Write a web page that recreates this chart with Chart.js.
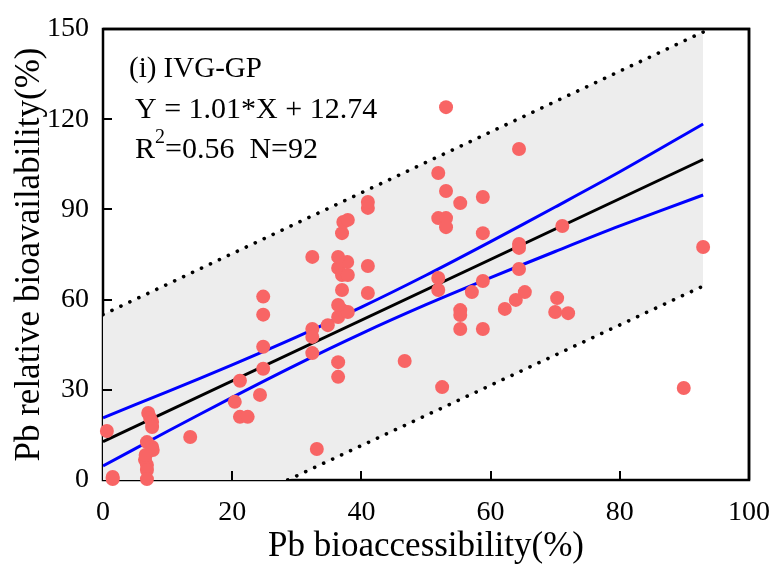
<!DOCTYPE html>
<html>
<head>
<meta charset="utf-8">
<script src="https://cdn.jsdelivr.net/npm/chart.js@4.4.1/dist/chart.umd.min.js"></script>
<style>
    html, body { margin: 0; padding: 0; background: #fff; }
    #wrap { width: 780px; height: 568px; position: relative; }
</style>
</head>
<body>
<div id="wrap"><canvas id="chart" width="780" height="568"></canvas></div>
<script>
// ==================== Data ====================
const xTicks = [0, 20, 40, 60, 80, 100];
const yTicks = [0, 30, 60, 90, 120, 150];

// observed samples (Pb bioaccessibility %, Pb relative bioavailability %)
const bioAccess = [
    0.6, 1.5, 1.5, 7.0, 7.3, 7.6, 7.6, 6.8, 7.6, 7.7, 6.5, 6.8, 6.8, 6.8, 6.6,
    13.5, 20.4, 21.2, 22.4, 24.3, 21.2, 24.8, 24.8, 24.8, 24.8, 33.1,
    32.4, 32.4, 32.4, 32.4, 34.8, 36.4, 36.4, 36.4, 37.0, 37.9, 36.4, 37.0, 36.4, 37.0,
    37.9, 37.8, 36.4, 37.0, 37.2, 37.9, 41.0, 41.0, 41.0, 41.0, 46.7,
    52.5, 53.1, 51.9, 53.1, 55.3, 58.8, 51.9, 53.1, 53.1, 58.8, 64.4, 71.1, 64.4, 64.4,
    64.4, 92.9, 51.9, 51.9, 58.8, 57.1, 65.3, 63.9, 62.2, 70.3, 70.0, 72.0, 55.3, 55.3,
    55.3, 58.8, 89.9
];
const bioAvail = [
    16.3, 1.0, 0.3, 22.3, 20.6, 19.3, 17.6, 12.6, 11.0, 10.0, 6.7, 5.0, 3.3, 0.3, 8.3,
    14.3, 26.0, 21.0, 21.0, 28.3, 33.0, 61.0, 55.0, 44.3, 37.0, 10.3,
    74.2, 50.2, 47.6, 42.2, 51.5, 39.2, 34.3, 54.2, 56.5, 55.9, 58.2, 63.2, 70.5, 68.2,
    68.2, 72.5, 74.2, 82.1, 85.8, 86.5, 90.5, 92.5, 71.2, 62.2, 39.6,
    30.9, 124.0, 102.1, 96.1, 92.1, 94.1, 87.1, 87.1, 84.1, 82.1, 110.1, 84.5, 78.5, 77.2,
    70.2, 77.5, 67.2, 63.2, 66.2, 62.5, 62.5, 59.9, 56.9, 60.5, 55.9, 55.5, 56.5, 54.9,
    50.2, 50.2, 30.6
];

// fitted line Y = 1.01*X + 12.74 (end points)
const fitX = [0, 92.9];
const fitY = [12.74, 106.6];

// 95% confidence band (blue)
const bandX = [0, 10, 20, 30, 40, 50, 60, 70, 80, 92.9];
const bandUpper = [20.7, 29.4, 38.3, 47.6, 57.5, 68.1, 79.3, 90.8, 102.5, 118.4];
const bandLower = [4.7, 16.2, 27.5, 38.4, 48.7, 58.3, 67.3, 76.0, 84.5, 94.8];

// 95% prediction band (dotted) + shaded area
const predX = [0, 28.6, 92.9];
const predUpper = [55, 84, 149];
const predLowerFill = [0, 0, 64.5];
const predLowerX = [28.6, 92.9];
const predLower = [0, 64.5];

const serif = '"Liberation Serif", "Times New Roman", serif';

function toPoints(xs, ys) {
    return xs.map((x, i) => ({ x, y: ys[i] }));
}

// ==================== Plugins ====================
// inward ticks + closed frame
const framePlugin = {
    id: 'frame',
    beforeDatasetsDraw(chart) {
        const { ctx, chartArea: a, scales } = chart;
        ctx.save();
        ctx.strokeStyle = '#000';
        ctx.lineWidth = 2.5;
        ctx.strokeRect(a.left, a.top, a.right - a.left, a.bottom - a.top);
        ctx.restore();
    },
    afterDatasetsDraw(chart) {
        const { ctx, chartArea: a, scales } = chart;
        ctx.save();
        ctx.strokeStyle = '#000';
        ctx.lineWidth = 2;
        ctx.beginPath();
        xTicks.slice(1, -1).forEach(v => {
            const px = Math.round(scales.x.getPixelForValue(v));
            ctx.moveTo(px, a.bottom);
            ctx.lineTo(px, a.bottom - 9);
        });
        yTicks.slice(1, -1).forEach(v => {
            const py = Math.round(scales.y.getPixelForValue(v));
            ctx.moveTo(a.left, py);
            ctx.lineTo(a.left + 9, py);
        });
        ctx.stroke();
        // redraw the frame, keep the edge points on top of it as in the source
        ctx.lineWidth = 2.5;
        ctx.beginPath();
        ctx.moveTo(a.left, a.top);
        ctx.lineTo(a.right, a.top);
        ctx.lineTo(a.right, a.bottom);
        ctx.stroke();
        ctx.restore();
    }
};

// equation text in upper-left corner
const notePlugin = {
    id: 'note',
    afterDatasetsDraw(chart) {
        const { ctx, chartArea: a } = chart;
        const x0 = a.left + 32;
        ctx.save();
        ctx.fillStyle = '#000';
        ctx.textBaseline = 'alphabetic';
        ctx.textAlign = 'left';
        ctx.font = '29px ' + serif;
        ctx.fillText('(i) IVG-GP', a.left + 26, a.top + 48);
        ctx.font = '30px ' + serif;
        ctx.fillText('Y = 1.01*X + 12.74', x0, a.top + 89);
        ctx.fillText('R', x0, a.top + 129);
        const w = ctx.measureText('R').width;
        ctx.font = '20px ' + serif;
        ctx.fillText('2', x0 + w, a.top + 114);
        const w2 = ctx.measureText('2').width;
        ctx.font = '30px ' + serif;
        ctx.fillText('=0.56  N=92', x0 + w + w2, a.top + 129);
        ctx.restore();
    }
};

// ==================== Chart ====================
const ctx = document.getElementById('chart');
new Chart(ctx, {
    type: 'scatter',
    data: {
        datasets: [
            {
                label: 'samples',
                data: toPoints(bioAccess, bioAvail),
                backgroundColor: '#f86565',
                borderWidth: 0,
                pointRadius: 7,
                clip: false,
                order: 0
            },
            {
                label: 'fit',
                data: toPoints(fitX, fitY),
                showLine: true,
                borderColor: '#000',
                borderWidth: 3,
                pointRadius: 0,
                order: 1
            },
            {
                label: 'ci upper',
                data: toPoints(bandX, bandUpper),
                showLine: true,
                borderColor: '#0000ff',
                borderWidth: 3,
                pointRadius: 0,
                tension: 0.3,
                order: 1
            },
            {
                label: 'ci lower',
                data: toPoints(bandX, bandLower),
                showLine: true,
                borderColor: '#0000ff',
                borderWidth: 3,
                pointRadius: 0,
                tension: 0.3,
                order: 1
            },
            {
                label: 'pi upper',
                data: toPoints(predX, predUpper),
                showLine: true,
                borderColor: '#000',
                borderWidth: 3.6,
                borderDash: [0.1, 9.8],
                borderCapStyle: 'round',
                pointRadius: 0,
                fill: { target: 5 },
                backgroundColor: '#ededed',
                order: 2
            },
            {
                label: 'pi fill bound',
                data: toPoints(predX, predLowerFill),
                showLine: true,
                borderWidth: 0,
                borderColor: 'rgba(0,0,0,0)',
                pointRadius: 0,
                order: 3
            },
            {
                label: 'pi lower',
                data: toPoints(predLowerX, predLower),
                showLine: true,
                borderColor: '#000',
                borderWidth: 3.6,
                borderDash: [0.1, 9.8],
                borderCapStyle: 'round',
                pointRadius: 0,
                order: 1
            }
        ]
    },
    options: {
        responsive: false,
        animation: false,
        layout: { padding: { top: 29, right: 31, left: 0, bottom: 0 } },
        plugins: {
            legend: { display: false },
            tooltip: { enabled: false }
        },
        scales: {
            x: {
                type: 'linear',
                min: 0,
                max: 100,
                afterFit: s => { s.height = 88; },
                afterBuildTicks: s => { s.ticks = xTicks.map(v => ({ value: v })); },
                border: { display: false },
                grid: { display: false },
                ticks: {
                    color: '#000',
                    padding: 8,
                    font: { family: serif, size: 28 },
                    maxRotation: 0
                },
                title: {
                    display: true,
                    text: 'Pb bioaccessibility(%)',
                    color: '#000',
                    font: { family: serif, size: 35, lineHeight: 1.2 },
                    padding: { top: 0, bottom: 0 }
                }
            },
            y: {
                type: 'linear',
                min: 0,
                max: 150,
                afterFit: s => { s.width = 103; },
                afterBuildTicks: s => { s.ticks = yTicks.map(v => ({ value: v })); },
                border: { display: false },
                grid: { display: false },
                ticks: {
                    color: '#000',
                    padding: 6,
                    font: { family: serif, size: 28 }
                },
                title: {
                    display: true,
                    text: 'Pb relative bioavailability(%)',
                    color: '#000',
                    font: { family: serif, size: 35, lineHeight: 1.2 },
                    padding: { top: 9, bottom: 0 }
                }
            }
        }
    },
    plugins: [framePlugin, notePlugin]
});
</script>
</body>
</html>
